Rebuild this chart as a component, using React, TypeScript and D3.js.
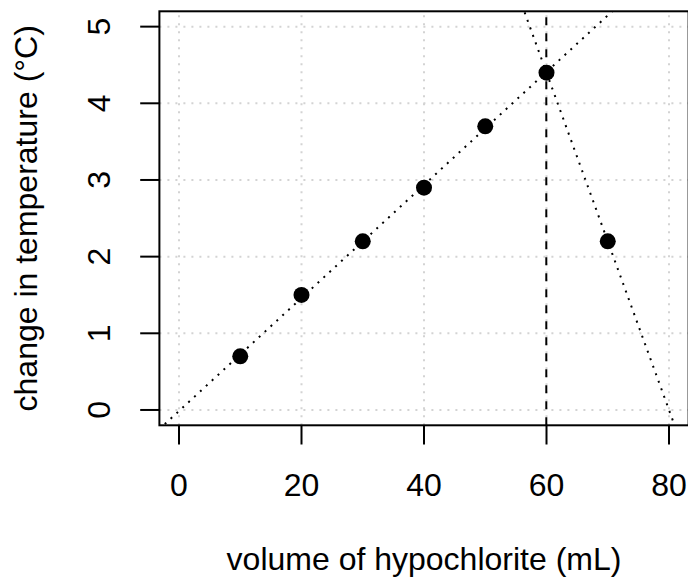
import React, { useEffect, useRef } from "react";
import { select, scaleLinear, line, mean, sum } from "d3";

const volume = [10, 20, 30, 40, 50, 60, 70];
const tempChange = [0.7, 1.5, 2.2, 2.9, 3.7, 4.4, 2.2];
const xTicks = [0, 20, 40, 60, 80];
const yTicks = [0, 1, 2, 3, 4, 5];

const width = 688;
const height = 578;
const font = "'Liberation Sans', Arial, Helvetica, sans-serif";

function App() {
  const svgRef = useRef<SVGSVGElement>(null);

  useEffect(() => {
    const svg = select(svgRef.current);
    svg.selectAll("*").remove();

    const xScale = scaleLinear().domain([-3.2, 83.2]).range([159.4, 688.6]);
    const yScale = scaleLinear().domain([-0.2, 5.2]).range([425.3, 11.3]);
    const [x0, x1] = xScale.range();
    const [y0, y1] = yScale.range();

    svg
      .append("defs")
      .append("clipPath")
      .attr("id", "plot-clip")
      .append("rect")
      .attr("x", x0)
      .attr("y", y1)
      .attr("width", x1 - x0)
      .attr("height", y0 - y1);

    // grid
    svg
      .selectAll(".vgrid")
      .data(xTicks)
      .join("line")
      .attr("class", "vgrid")
      .attr("x1", (d) => xScale(d))
      .attr("x2", (d) => xScale(d))
      .attr("y1", y0)
      .attr("y2", y1)
      .attr("stroke", "#d3d3d3")
      .attr("stroke-width", 2)
      .attr("stroke-dasharray", "2 6");
    svg
      .selectAll(".hgrid")
      .data(yTicks)
      .join("line")
      .attr("class", "hgrid")
      .attr("x1", x0)
      .attr("x2", x1)
      .attr("y1", (d) => yScale(d))
      .attr("y2", (d) => yScale(d))
      .attr("stroke", "#d3d3d3")
      .attr("stroke-width", 2)
      .attr("stroke-dasharray", "2 6");

    // least squares fit through the rising points
    const riseX = volume.slice(0, 6);
    const riseY = tempChange.slice(0, 6);
    const mx = mean(riseX)!;
    const my = mean(riseY)!;
    const slope =
      sum(riseX, (x, i) => (x - mx) * (riseY[i] - my)) /
      sum(riseX, (x) => (x - mx) * (x - mx));
    const intercept = my - slope * mx;

    // line through the last two points
    const n = volume.length;
    const slope2 =
      (tempChange[n - 1] - tempChange[n - 2]) / (volume[n - 1] - volume[n - 2]);
    const intercept2 = tempChange[n - 1] - slope2 * volume[n - 1];
    const crossX = (intercept2 - intercept) / (slope - slope2);

    const lineGenerator = line<number[]>()
      .x((d) => xScale(d[0]))
      .y((d) => yScale(d[1]));

    const plot = svg.append("g").attr("clip-path", "url(#plot-clip)");
    const ends = [-10, 100];
    [
      [slope, intercept],
      [slope2, intercept2],
    ].forEach(([m, b]) => {
      plot
        .append("path")
        .attr("d", lineGenerator(ends.map((x) => [x, m * x + b])))
        .attr("fill", "none")
        .attr("stroke", "black")
        .attr("stroke-width", 2)
        .attr("stroke-dasharray", "2 6");
    });

    plot
      .append("line")
      .attr("x1", xScale(crossX))
      .attr("x2", xScale(crossX))
      .attr("y1", y0)
      .attr("y2", y1)
      .attr("stroke", "black")
      .attr("stroke-width", 2)
      .attr("stroke-dasharray", "8 8");

    plot
      .selectAll(".pt")
      .data(volume)
      .join("circle")
      .attr("class", "pt")
      .attr("cx", (d) => xScale(d))
      .attr("cy", (d, i) => yScale(tempChange[i]))
      .attr("r", 8)
      .attr("fill", "black");

    // box
    svg
      .append("rect")
      .attr("x", x0)
      .attr("y", y1)
      .attr("width", x1 - x0)
      .attr("height", y0 - y1)
      .attr("fill", "none")
      .attr("stroke", "black")
      .attr("stroke-width", 2);

    // x axis
    svg
      .selectAll(".xtick")
      .data(xTicks)
      .join("line")
      .attr("class", "xtick")
      .attr("x1", (d) => xScale(d))
      .attr("x2", (d) => xScale(d))
      .attr("y1", y0)
      .attr("y2", y0 + 19.2)
      .attr("stroke", "black")
      .attr("stroke-width", 2);
    svg
      .selectAll(".xlab")
      .data(xTicks)
      .join("text")
      .attr("class", "xlab")
      .attr("x", (d) => xScale(d))
      .attr("y", 496)
      .attr("text-anchor", "middle")
      .attr("font-family", font)
      .attr("font-size", 32)
      .text((d) => d);

    // y axis
    svg
      .selectAll(".ytick")
      .data(yTicks)
      .join("line")
      .attr("class", "ytick")
      .attr("x1", x0 - 19.2)
      .attr("x2", x0)
      .attr("y1", (d) => yScale(d))
      .attr("y2", (d) => yScale(d))
      .attr("stroke", "black")
      .attr("stroke-width", 2);
    svg
      .selectAll(".ylab")
      .data(yTicks)
      .join("text")
      .attr("class", "ylab")
      .attr("transform", (d) => `translate(110,${yScale(d)}) rotate(-90)`)
      .attr("text-anchor", "middle")
      .attr("font-family", font)
      .attr("font-size", 32)
      .text((d) => d);

    // titles
    svg
      .append("text")
      .attr("x", (x0 + x1) / 2)
      .attr("y", 570)
      .attr("text-anchor", "middle")
      .attr("font-family", font)
      .attr("font-size", 32)
      .text("volume of hypochlorite (mL)");
    svg
      .append("text")
      .attr("transform", `translate(37,${(y0 + y1) / 2}) rotate(-90)`)
      .attr("text-anchor", "middle")
      .attr("font-family", font)
      .attr("font-size", 32)
      .text("change in temperature (°C)");
  }, []);

  return (
    <svg
      ref={svgRef}
      width={width}
      height={height}
      style={{ position: "absolute", left: 0, top: 0, background: "white" }}
    />
  );
}

export default App;
